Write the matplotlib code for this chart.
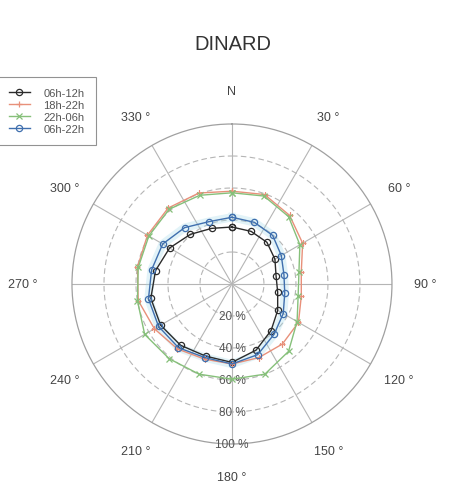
import numpy as np
import matplotlib.pyplot as plt

plt.rcParams['font.family'] = ['Liberation Sans', 'DejaVu Sans']

# wind direction (deg, clockwise from north) and frequency (%) per period
directions = np.arange(0, 360, 20)
freq_06_12 = [35.6, 35, 34, 31, 28, 29, 33, 38, 44, 49, 48, 50, 51.5, 51.5, 48.5, 45, 40.5, 37]
freq_18_22 = [58, 59.5, 56, 51, 44, 44, 48, 49, 49, 50, 50, 53, 56, 59.5, 60, 61, 62, 60.5]
freq_22_06 = [57, 58.5, 55, 49, 42.5, 42, 47, 55, 60, 59.5, 60, 61, 63, 60, 59.5, 60, 61, 59]
freq_06_22 = [41.7, 41, 39.6, 35.6, 33, 33.5, 37, 41, 47, 50, 49, 52, 53, 53, 51, 50, 46, 41.5]

r_ticks = [20, 40, 60, 80, 100]
r_labels = ['20 %', '40 %', '60 %', '80 %', '100 %']
theta_ticks = np.arange(0, 360, 30)
theta_labels = ['N', '30 °', '60 °', '90 °', '120 °', '150 °', '180 °',
                '210 °', '240 °', '270 °', '300 °', '330 °']

series = [
    ('06h-12h', freq_06_12, '#2b2b2b', 'o'),
    ('18h-22h', freq_18_22, '#e8907a', '+'),
    ('22h-06h', freq_22_06, '#86c07a', 'x'),
    ('06h-22h', freq_06_22, '#3f6fae', 'o'),
]


def closed(a):
    return np.append(a, a[0])


fig = plt.figure(figsize=(4.62, 4.85), dpi=100)
ax = fig.add_axes([0.1558, 0.0825, 0.6926, 0.6598], projection='polar')
ax.set_theta_zero_location('N')
ax.set_theta_direction(-1)
ax.set_ylim(0, 100)

# grid: dashed inner rings, solid spokes and outer ring
ax.grid(False)
th = np.linspace(0, 2 * np.pi, 361)
for r in r_ticks[:-1]:
    ax.plot(th, np.full_like(th, r), color='#b5b5b5', lw=0.8, ls=(0, (5, 3)), zorder=1)
for t in theta_ticks:
    ax.plot([np.radians(t)] * 2, [0, 100], color='#b5b5b5', lw=0.8, zorder=1)
ax.spines['polar'].set_color('#a0a0a0')
ax.spines['polar'].set_linewidth(0.9)

ax.set_yticks([])
ax.set_xticks([])

# direction labels just outside the outer ring
for t, lab in zip(theta_ticks, theta_labels):
    rr = 131 if t == 270 else 120.5
    ax.text(np.radians(t), rr, lab, ha='center', va='center', fontsize=9,
            color='#444444', clip_on=False)

for r, lab in zip(r_ticks, r_labels):
    ax.text(np.pi, r, lab, ha='center', va='center', fontsize=8.5, color='#555555', zorder=3)

theta = np.radians(closed(directions))
for name, vals, col, mk in series:
    face = 'none' if mk == 'o' else col
    if name == '06h-22h':
        ax.plot(theta, closed(vals), color='#9fd8e8', lw=6, alpha=0.3, zorder=2)
    ax.plot(theta, closed(vals), color=col, lw=1.0, marker=mk, ms=4.5,
            mfc=face, mec=col, mew=0.9, label=name, zorder=4)

fig.text(0.503, 0.909, 'DINARD', ha='center', va='center', fontsize=14.5, color='#333333')

leg = fig.legend(loc='upper left', bbox_to_anchor=(-0.012, 0.847), fontsize=8,
                 frameon=True, fancybox=False, edgecolor='#777777', handlelength=1.9,
                 borderpad=1.0, labelspacing=0.2, handletextpad=1.2, borderaxespad=0.3)
leg.get_frame().set_linewidth(0.8)
for t in leg.get_texts():
    t.set_color('#555555')

fig.savefig('out.png', dpi=100, facecolor='white')
